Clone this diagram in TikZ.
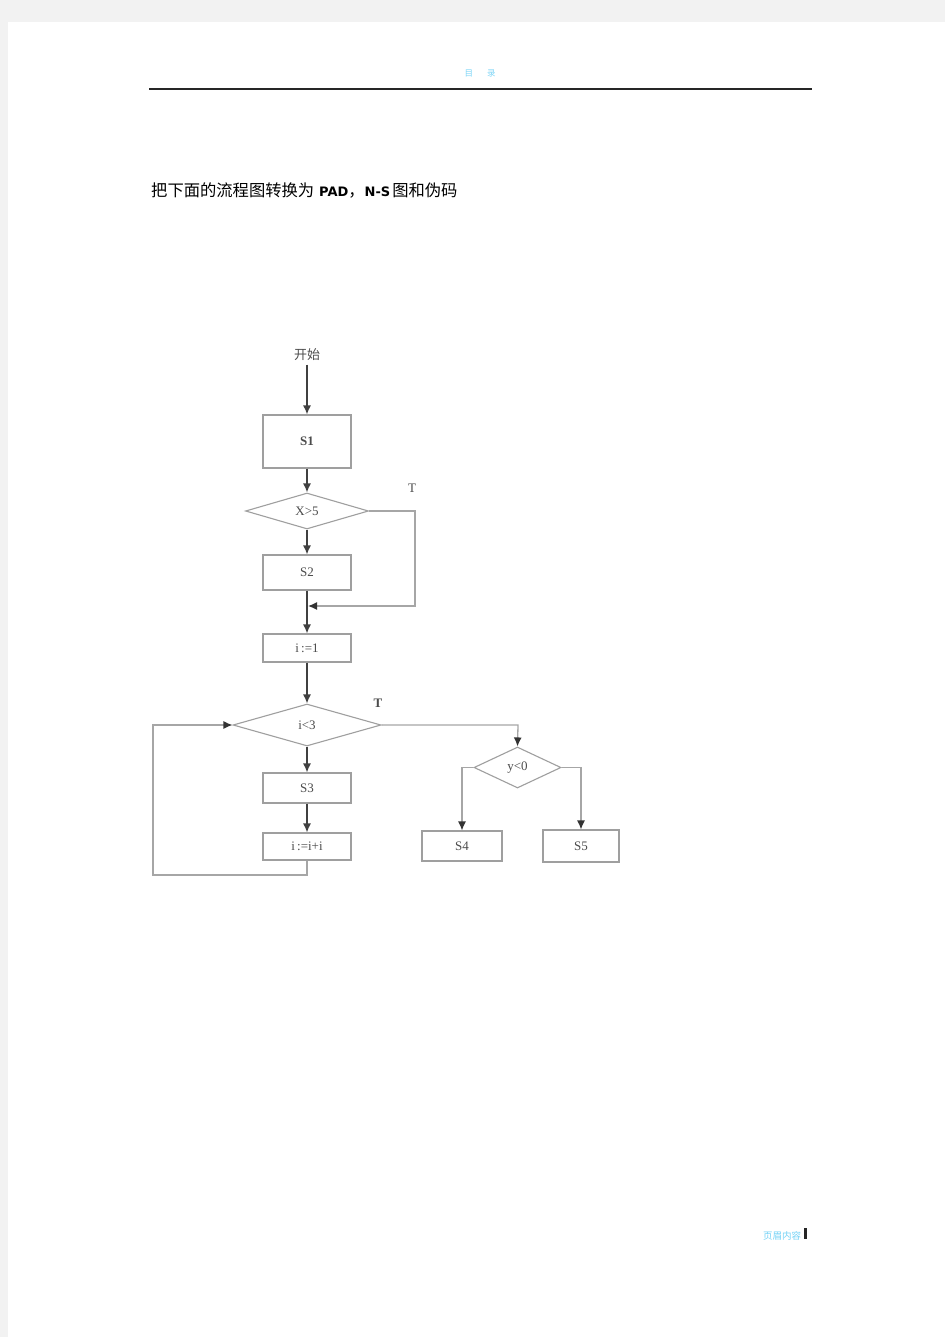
\documentclass[tikz,border=0pt]{standalone}
\usepackage{fontspec}
\setmainfont{Liberation Serif}
\newfontfamily\cjk{Noto Sans CJK SC}
\newfontfamily\padfont{DejaVu Sans}
\usetikzlibrary{arrows.meta,shapes.geometric,positioning}

\tikzset{
    box/.style={draw=gray!75,line width=1.1pt,minimum width=88,minimum height=28,inner sep=0},
    cond/.style={diamond,draw=gray!75,line width=1.1pt,inner sep=0},
    flow/.style={-{Latex[length=9pt,width=8pt]},line width=1.4pt,draw=black!75},
    link/.style={-{Latex[length=9pt,width=8pt,color=black!80]},line width=1.3pt,draw=gray!70},
    lbl/.style={font=\fontsize{13}{15}\selectfont,text=black!70}
}

\begin{document}
\begin{tikzpicture}[x=1pt,y=-1pt]
    \useasboundingbox (0,0) rectangle (945,1337);
    \fill [black!5] (0,0) rectangle (945,1337);
    \fill [white] (8,22) rectangle (945,1337);

    % page header and footer
    \node [text=cyan!50,font=\cjk\fontsize{8.5}{9}\selectfont] (hdr) at (480,74) {目\hspace{14pt}录};
    \draw [line width=1.2pt,black!85] (149,89) -- (812,89);
    \node [text=cyan!55,font=\cjk\fontsize{9.5}{10}\selectfont] (ftr) at (782,1236) {页眉内容};
    \fill [black!85] (804,1228) rectangle (807,1239);

    % task
    \node [anchor=west,inner sep=0,font=\cjk\fontsize{16.3}{18}\selectfont] (task) at (151,190)%
        {把下面的流程图转换为\hspace{5pt}{\padfont\bfseries\fontsize{13}{14}\selectfont PAD}，{\padfont\bfseries\fontsize{13}{14}\selectfont N-S}\hspace{2pt}图和伪码};

    % flowchart
    \node [lbl,font=\cjk\fontsize{13}{15}\selectfont] (start) at (307,355) {开始};
    \node [box,lbl,minimum height=53] (s1) at (307,441.5) {\textbf{S1}};
    \node [cond,lbl,minimum width=123,minimum height=36,aspect=3.4] (cx) at (307,511) {X>5};
    \node [box,lbl,minimum height=35] (s2) at (307,572.5) {S2};
    \node [box,lbl] (init) at (307,648) {i\,:=1};
    \node [cond,lbl,minimum width=148,minimum height=42,aspect=3.5] (ci) at (307,725) {i<3};
    \node [box,lbl,minimum height=30] (s3) at (307,788) {S3};
    \node [box,lbl,minimum height=27] (inc) at (307,846.5) {i\,:=i+i};
    \node [cond,lbl,minimum width=87,minimum height=41,aspect=2.1] (cy) at (517.5,767.5) {y<0};
    \node [box,lbl,minimum width=80,minimum height=30] (s4) at (462,846) {S4};
    \node [box,lbl,minimum width=76,minimum height=32] (s5) at (581,846) {S5};

    \node [lbl] (t1) at (412,488) {T};
    \node [lbl] (t2) at (378,703) {\textbf{T}};

    \coordinate (join) at (308,606);
    \coordinate (back) at (307,875);

    \draw [flow] (start) -- (s1);
    \draw [flow] (s1) -- (cx);
    \draw [flow] (cx) -- (s2);
    \draw [link] (cx.east) -- (415,511) -- (415,606) -- (join);
    \draw [flow] (s2) -- (init);
    \draw [flow] (init) -- (ci);
    \draw [flow] (ci) -- (s3);
    \draw [flow] (s3) -- (inc);
    \draw [link] (inc) -- (back) -- (153,875) -- (153,725) -- (ci.west);
    \draw [link] (ci.east) -- (518,725) -- (cy.north);
    \draw [link] (cy.west) -- (462,767.5) -- (s4.north);
    \draw [link] (cy.east) -- (581,767.5) -- (s5.north);
\end{tikzpicture}
\end{document}
